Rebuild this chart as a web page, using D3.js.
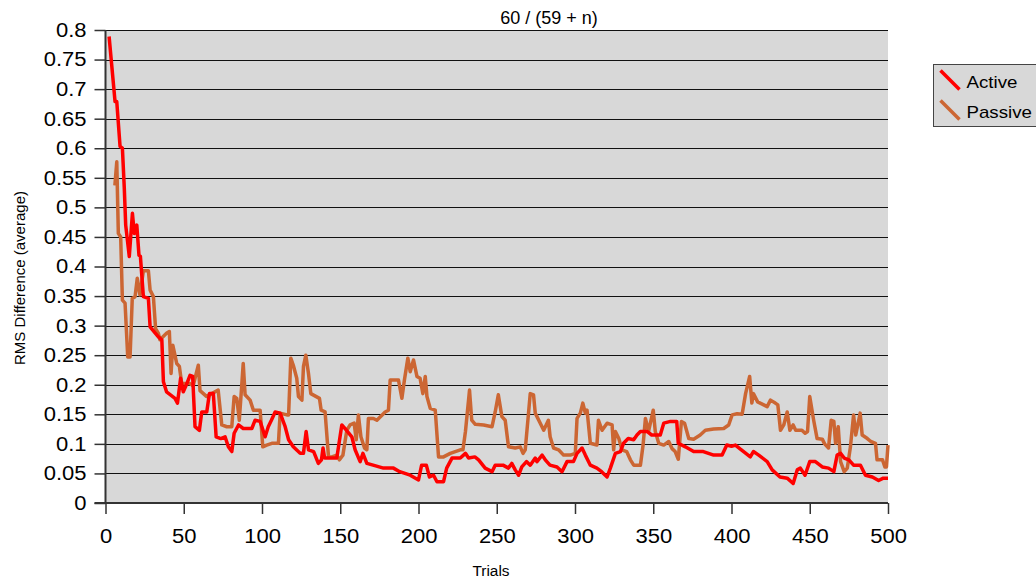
<!DOCTYPE html>
<html>
<head>
<meta charset="utf-8">
<script src="https://cdn.jsdelivr.net/npm/d3@7"></script>
<style>
  body { margin: 0; background: #fff; }
  text { font-family: "Liberation Sans", Arial, sans-serif; fill: #000; }
</style>
</head>
<body>
<svg id="chart" width="1036" height="580"></svg>
<script>
// data: [trial, rms difference]
const seriesNames = ['Active', 'Passive'];
const seriesColors = ['#ff0000', '#cc6633'];
const yTicks = d3.range(0, 0.8001, 0.05);
const xTicks = d3.range(0, 501, 50);

const activeData = [
  [2.3,.789],[6.1,.679],[7.2,.679],[9.3,.603],[10.8,.600],[12,.533],[12.9,.470],[15.2,.417],
  [17.2,.490],[18.4,.456],[20,.470],[21.4,.419],[22.3,.417],[24.2,.349],[27.4,.346],[28.5,.298],
  [31,.290],[33.8,.281],[36,.276],[37,.205],[39,.188],[44.4,.177],[46,.169],[48,.211],[49.7,.188],
  [52,.202],[54,.216],[55.7,.214],[57.2,.129],[60,.123],[61.5,.154],[64.7,.154],[66.4,.185],
  [68.9,.185],[70.7,.112],[73.7,.109],[76.4,.112],[78.5,.095],[80.7,.087],[82.2,.118],[85,.132],
  [88,.126],[93.5,.126],[95.6,.140],[98.8,.138],[102,.112],[104,.129],[106,.140],[108.4,.154],
  [111.6,.152],[114.8,.129],[117,.107],[120,.095],[124.4,.084],[126.5,.084],[128.2,.121],
  [129.7,.090],[133,.087],[136,.067],[138,.073],[139,.093],[140,.076],[147.8,.076],[151,.132],
  [154,.123],[157.4,.112],[159.5,.090],[162.7,.070],[164.5,.084],[167,.067],[171,.064],
  [177.6,.059],[184,.059],[188,.053],[194.7,.047],[200,.039],[202,.064],[205,.064],[207,.044],
  [209.6,.047],[211.8,.036],[216,.036],[218,.059],[221.4,.076],[226.7,.076],[230,.084],[232,.076],
  [236,.078],[238.4,.073],[242.6,.059],[247,.053],[249,.064],[254,.064],[257.5,.059],[259.6,.067],
  [261.8,.056],[264,.047],[266,.061],[269,.070],[271.4,.064],[274.6,.076],[275.7,.070],[279,.081],
  [281,.073],[284,.064],[288.5,.061],[291.7,.053],[294.9,.070],[299,.070],[301.3,.084],[304.5,.093],
  [306.6,.081],[309.8,.064],[314,.059],[317,.053],[320.5,.044],[322.6,.059],[325.8,.084],[329,.087],
  [331,.101],[334,.109],[337.5,.107],[339.6,.115],[341.8,.121],[346,.121],[349,.115],[354.5,.115],
  [356.7,.135],[361,.138],[365,.138],[366,.101],[370.5,.095],[375.8,.087],[382,.087],[388.6,.081],
  [394,.081],[397,.098],[400,.096],[402.5,.098],[405.7,.091],[412,.078],[414,.087],[417.4,.081],
  [422.8,.070],[426,.056],[431,.044],[435.6,.042],[439.4,.033],[442,.056],[444,.059],[447,.047],
  [450,.070],[453.6,.070],[458,.061],[462,.059],[465.4,.053],[467.5,.081],[469.7,.084],[472,.076],
  [475,.073],[478,.064],[482.4,.064],[485.6,.047],[490,.044],[494,.038],[497,.042],[500,.042]
];

const passiveData = [
  [6,.537],[7.2,.577],[8.2,.456],[9.7,.450],[10.8,.343],[12.5,.338],[14.2,.247],[15.7,.247],
  [17.1,.346],[18.9,.349],[20.3,.380],[22,.352],[24.2,.393],[27.4,.393],[28.5,.360],[30.6,.349],
  [32,.295],[33.8,.287],[34.8,.276],[39,.287],[40.8,.290],[41.9,.219],[43,.267],[45.5,.236],
  [47.2,.231],[48.7,.202],[54,.202],[56,.198],[59.3,.233],[60.4,.190],[64.7,.180],[68,.185],
  [72,.191],[74.3,.132],[77.5,.129],[80.7,.129],[82.2,.180],[83.9,.177],[85.5,.140],[87,.197],
  [88,.236],[89.2,.183],[92.4,.174],[94.5,.157],[98.8,.157],[100.5,.095],[103,.098],[106.3,.101],
  [110.5,.101],[111.6,.152],[115.9,.149],[117,.149],[118.4,.245],[120,.233],[122.2,.211],
  [123.3,.180],[125.5,.174],[126.5,.231],[128,.250],[129.7,.219],[131.2,.185],[136.7,.177],
  [137.8,.157],[140.3,.154],[142.5,.078],[144.6,.078],[147.8,.081],[149.5,.073],[151.7,.081],
  [154.2,.123],[156.3,.132],[158.9,.135],[160.2,.107],[161.6,.149],[163.2,.112],[165.5,.093],
  [167,.090],[168,.143],[171.2,.143],[173.4,.140],[178.7,.154],[180.8,.157],[181.9,.208],
  [187.2,.208],[189.4,.177],[191,.208],[193.2,.245],[194.7,.222],[196.8,.242],[199,.214],
  [201,.211],[202.8,.185],[204.3,.214],[205.4,.180],[207.5,.160],[210.7,.157],[212.8,.078],
  [216,.078],[220.3,.084],[226.7,.090],[228.4,.090],[230,.121],[232.6,.191],[234,.140],[236.3,.133],
  [241.6,.132],[247,.129],[249,.154],[251,.183],[253.3,.146],[255.4,.140],[257.5,.095],[261.8,.093],
  [265,.095],[266.8,.084],[268.2,.090],[270.3,.152],[271.4,.185],[273.5,.183],[274.6,.152],
  [277.8,.135],[280,.123],[283,.140],[284.1,.112],[286.3,.093],[289.5,.090],[292.7,.081],[297,.081],
  [300.2,.084],[301.3,.143],[303.4,.152],[305,.169],[306.6,.152],[307.7,.157],[309.8,.101],
  [314,.098],[315,.140],[317.3,.123],[320.5,.135],[323.7,.132],[324.7,.090],[325.8,.121],[328,.109],
  [330,.090],[333,.087],[335.4,.073],[337.5,.064],[341.8,.064],[343.5,.098],[345,.143],[347,.121],
  [350,.157],[351.3,.121],[353.5,.101],[356.7,.098],[359.9,.104],[362,.092],[364,.087],[366,.074],
  [368,.138],[370,.135],[372.7,.109],[375.8,.108],[380,.115],[383.3,.123],[388.6,.125],[395,.126],
  [398.2,.132],[400.4,.149],[403.6,.151],[406.8,.150],[409,.185],[411.6,.214],[413,.169],[414,.185],
  [416.7,.171],[420.6,.166],[422.8,.163],[424.9,.174],[428,.169],[429.6,.166],[431.3,.123],
  [433.4,.132],[435.6,.154],[437.3,.123],[439.4,.132],[441,.123],[445,.123],[447,.118],[448.6,.121],
  [450,.180],[452.5,.140],[454.7,.109],[458,.108],[459.5,.100],[462,.093],[463.7,.140],[465.4,.138],
  [466.5,.101],[468.2,.129],[469.7,.070],[472,.053],[474,.059],[476,.095],[478,.149],[479.4,.115],
  [482.2,.152],[483.5,.115],[486.8,.109],[489,.104],[492,.101],[493,.073],[496.5,.073],[498,.061],
  [499,.061],[500,.098]
];

const svg = d3.select('#chart');
const margin = {top: 30, left: 105.5, right: 148, bottom: 77};
const width = 1036, height = 580;
const innerW = width - margin.left - margin.right;
const innerH = height - margin.top - margin.bottom;

const xscale = d3.scaleLinear().domain([0, 500]).range([margin.left, margin.left + innerW]);
const yscale = d3.scaleLinear().domain([0, 0.8]).range([margin.top + innerH, margin.top]);

// text in the original is a bit wider than plain Arial
function stretch(sel, k) {
    sel.each(function() {
        const len = this.getComputedTextLength();
        d3.select(this).attr('textLength', len * k).attr('lengthAdjust', 'spacingAndGlyphs');
    });
}

// plot area
svg.append('rect')
    .attr('x', xscale(0)).attr('y', yscale(0.8))
    .attr('width', xscale(500) - xscale(0)).attr('height', yscale(0) - yscale(0.8))
    .attr('fill', '#d8d8d8');

// horizontal grid
svg.append('g').selectAll('line').data(yTicks.slice(1)).enter().append('line')
    .attr('x1', xscale(0)).attr('x2', xscale(500))
    .attr('y1', d => Math.round(yscale(d)) + 0.5).attr('y2', d => Math.round(yscale(d)) + 0.5)
    .attr('stroke', '#111').attr('stroke-width', 1);

// axes
const yaxis = d3.axisLeft(yscale).tickValues(yTicks).tickSize(11).tickPadding(8)
    .tickFormat(d => +d.toFixed(2));
const xaxis = d3.axisBottom(xscale).tickValues(xTicks).tickSize(11).tickPadding(15);

const yg = svg.append('g').attr('transform', `translate(${xscale(0)},0)`).call(yaxis);
const xg = svg.append('g').attr('transform', `translate(0,${yscale(0)})`).call(xaxis);
[yg, xg].forEach(g => {
    g.select('.domain').attr('stroke', '#333').attr('stroke-width', 2);
    g.selectAll('.tick line').attr('stroke', '#333').attr('stroke-width', 1.5);
    g.selectAll('.tick text').attr('font-size', '20px').attr('fill', '#000')
        .attr('font-family', '"Liberation Sans", Arial, sans-serif')
        .call(stretch, 1.1);
});
yg.select('.domain').attr('d', `M0,${yscale(0)}V${yscale(0.8)}`);
xg.select('.domain').attr('d', `M${xscale(0) - 11},0H${xscale(500)}`);

// lines, active drawn last so it sits on top
const line = d3.line().x(d => xscale(d[0])).y(d => yscale(d[1]));
[[passiveData, 1], [activeData, 0]].forEach(([data, i]) => {
    svg.append('path').datum(data)
        .attr('d', line)
        .attr('fill', 'none')
        .attr('stroke', seriesColors[i])
        .attr('stroke-width', 3.5)
        .attr('stroke-linejoin', 'round');
});

// title and labels
svg.append('text').attr('x', 549).attr('y', 24).attr('text-anchor', 'middle')
    .attr('font-size', '18px').text('60 / (59 + n)');
svg.append('text').attr('x', 491).attr('y', 576).attr('text-anchor', 'middle')
    .attr('font-size', '14px').text('Trials').call(stretch, 1.1);
svg.append('text').attr('transform', 'translate(25,278) rotate(-90)').attr('text-anchor', 'middle')
    .attr('font-size', '15px').text('RMS Difference (average)');

// legend
const legend = svg.append('g').attr('transform', 'translate(933.5,64.5)');
legend.append('rect').attr('width', 110).attr('height', 62)
    .attr('fill', '#d8d8d8').attr('stroke', '#444').attr('stroke-width', 1);
seriesNames.forEach((name, i) => {
    const g = legend.append('g').attr('transform', `translate(0,${i * 30})`);
    g.append('line').attr('x1', 7).attr('y1', 6).attr('x2', 26).attr('y2', 25)
        .attr('stroke', seriesColors[i]).attr('stroke-width', 3.5);
    g.append('text').attr('x', 33).attr('y', 23).attr('font-size', '17px').text(name)
        .call(stretch, 1.1);
});
</script>
</body>
</html>
